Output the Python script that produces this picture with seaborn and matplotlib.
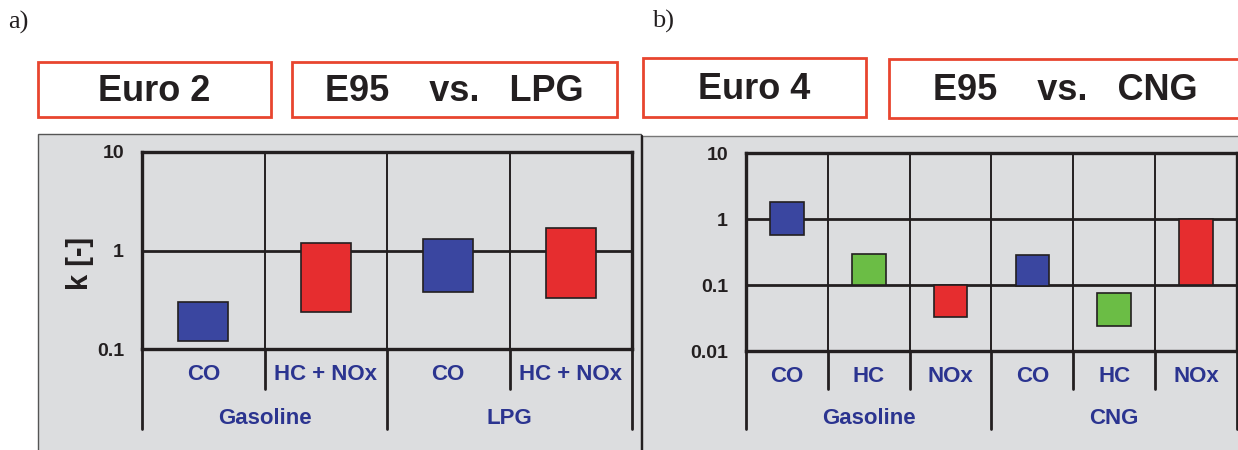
import numpy as np
import pandas as pd
import matplotlib.pyplot as plt
from matplotlib.patches import Rectangle
from matplotlib.ticker import NullLocator
from matplotlib.transforms import blended_transform_factory
import seaborn as sns

# --- dados (faixas de k, escala log) ---
a_pollutants = ["CO", "HC + NOx", "CO", "HC + NOx"]
a_fuels = ["Gasoline", "Gasoline", "LPG", "LPG"]
a_low = [0.12, 0.24, 0.38, 0.33]
a_high = [0.30, 1.20, 1.30, 1.70]
a_kinds = ["CO", "HCNOx", "CO", "HCNOx"]

b_pollutants = ["CO", "HC", "NOx", "CO", "HC", "NOx"]
b_fuels = ["Gasoline", "Gasoline", "Gasoline", "CNG", "CNG", "CNG"]
b_low = [0.57, 0.10, 0.033, 0.097, 0.024, 0.10]
b_high = [1.80, 0.30, 0.10, 0.28, 0.075, 1.00]
b_kinds = ["CO", "HC", "NOx", "CO", "HC", "NOx"]

a_yticks = [0.1, 1, 10]
a_yticklabels = ["0.1", "1", "10"]
b_yticks = [0.01, 0.1, 1, 10]
b_yticklabels = ["0.01", "0.1", "1", "10"]

kind_colors = {"CO": "#3a46a0", "HCNOx": "#e62d2f", "HC": "#6bbd45", "NOx": "#e62d2f"}

W, H = 1238, 450
LABEL_BLUE = "#2b3490"
INK = "#231f20"
BG = "#dcdddf"
BOX_RED = "#e8452f"

sns.set_style("white")
plt.rcParams["font.family"] = ["Liberation Sans", "DejaVu Sans"]

fig = plt.figure(figsize=(W / 100, H / 100), dpi=100)


def fx(px):
    return px / W


def fy(py):
    return 1 - py / H


def panel(x0, x1, y0, y1, pollutants, fuels, low, high, kinds, yticks, yticklabels):
    ax = fig.add_axes([fx(x0), fy(y1), (x1 - x0) / W, (y1 - y0) / H])
    ax.set_yscale("log")
    df = pd.DataFrame({
        "slot": [f"{f} {p}" for f, p in zip(fuels, pollutants)],
        "span": np.array(high) - np.array(low),
    })
    sns.barplot(data=df, x="slot", y="span", bottom=low, color="#000000",
                facecolor=[kind_colors[k] for k in kinds], edgecolor=INK,
                linewidth=1.2, width=0.41, errorbar=None, zorder=3, ax=ax)
    n = len(pollutants)
    ax.set_xlim(-0.5, n - 0.5)
    ax.set_ylim(yticks[0], yticks[-1])
    ax.set_facecolor(BG)
    ax.set_xlabel("")
    ax.set_ylabel("")
    ax.yaxis.set_minor_locator(NullLocator())
    ax.set_yticks(yticks)
    ax.set_yticklabels(yticklabels, fontsize=14, fontweight="bold", color=INK)
    ax.set_xticks(range(n))
    ax.set_xticklabels(pollutants, fontsize=16, fontweight="bold", color=LABEL_BLUE)
    ax.tick_params(axis="both", length=0)
    ax.tick_params(axis="y", pad=13)
    ax.tick_params(axis="x", pad=11)
    for s in ax.spines.values():
        s.set_visible(True)
        s.set_color(INK)
        s.set_linewidth(2.4)
    for t in yticks[1:-1]:
        ax.axhline(t, color=INK, lw=2.0, zorder=2)
    for i in range(n - 1):
        ax.axvline(i + 0.5, color=INK, lw=1.4, zorder=2)

    # lineas bajo el eje y etiquetas de grupo
    tr = blended_transform_factory(ax.transData, ax.transAxes)
    ph = y1 - y0
    short = -(389 - y1) / ph
    long_ = -(429 - y1) / ph
    bounds = [-0.5] + [i + 0.5 for i in range(n - 1) if fuels[i] != fuels[i + 1]] + [n - 0.5]
    for i in range(n + 1):
        xb = i - 0.5
        y_end = long_ if xb in bounds else short
        ax.plot([xb, xb], [0, y_end], color=INK, lw=2.0, transform=tr, clip_on=False)
    for g0, g1 in zip(bounds[:-1], bounds[1:]):
        name = fuels[int(g0 + 0.5)]
        ax.text((g0 + g1) / 2, -(418 - y1) / ph, name, transform=tr, ha="center",
                va="center", fontsize=16, fontweight="bold", color=LABEL_BLUE)
    return ax


# fondos grises
fig.add_artist(Rectangle((fx(38), fy(452)), (641 - 38) / W, (452 - 134) / H,
                         transform=fig.transFigure, facecolor=BG, edgecolor="#555555",
                         lw=1.0, zorder=-2))
fig.add_artist(Rectangle((fx(642), fy(452)), (1242 - 642) / W, (452 - 136) / H,
                         transform=fig.transFigure, facecolor=BG, edgecolor="#777777",
                         lw=1.0, zorder=-2))
fig.add_artist(plt.Line2D([fx(642), fx(642)], [fy(136), 0], transform=fig.transFigure,
                          color=INK, lw=1.6, zorder=-1))

ax_a = panel(142, 632, 152, 349, a_pollutants, a_fuels, a_low, a_high, a_kinds,
             a_yticks, a_yticklabels)
ax_b = panel(746, 1237, 153, 351, b_pollutants, b_fuels, b_low, b_high, b_kinds,
             b_yticks, b_yticklabels)

fig.text(fx(80), fy(263), "k [-]", rotation=90, ha="center", va="center",
         fontsize=21, fontweight="bold", color=INK)

# cajas de titulo
boxes = [
    (38, 271, 62, 117, "Euro 2"),
    (292, 617, 62, 117, "E95    vs.   LPG"),
    (643, 866, 58, 117, "Euro 4"),
    (889, 1242, 59, 118, "E95    vs.   CNG"),
]
for bx0, bx1, by0, by1, txt in boxes:
    fig.add_artist(Rectangle((fx(bx0), fy(by1)), (bx1 - bx0) / W, (by1 - by0) / H,
                             transform=fig.transFigure, facecolor="white",
                             edgecolor=BOX_RED, lw=2.0))
    fig.text(fx((bx0 + bx1) / 2), fy((by0 + by1) / 2 + 2), txt, ha="center", va="center",
             fontsize=26, fontweight="bold", color=INK)

fig.text(fx(8), fy(22), "a)", ha="left", va="center", fontsize=19,
         family="Liberation Serif", color=INK)
fig.text(fx(652), fy(21), "b)", ha="left", va="center", fontsize=19,
         family="Liberation Serif", color=INK)

fig.savefig("out.png", dpi=100)
